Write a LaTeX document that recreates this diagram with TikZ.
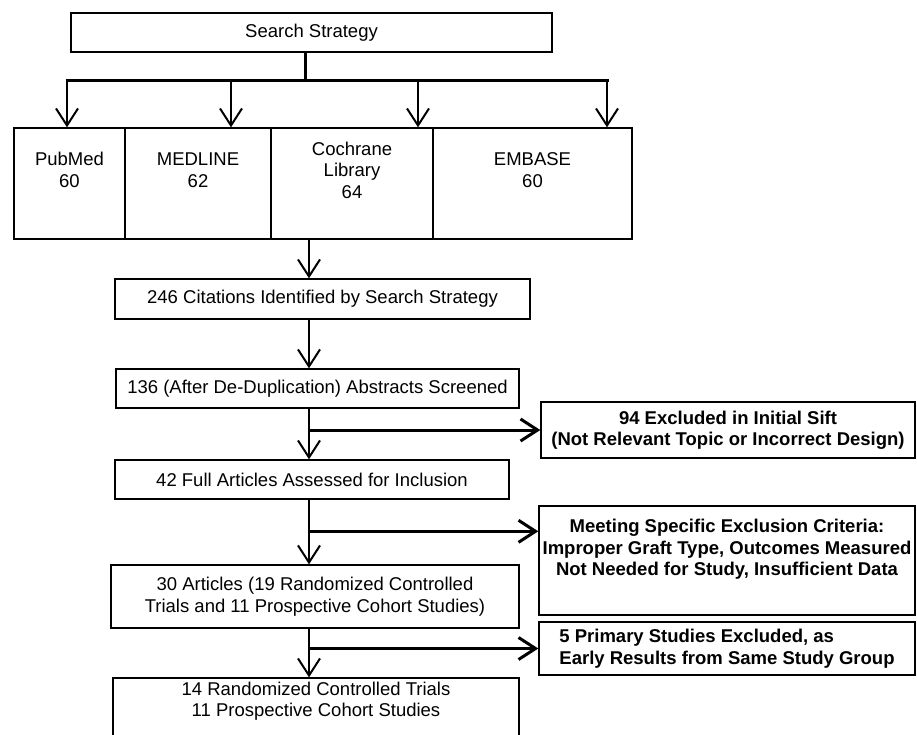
\documentclass[tikz,border=0pt]{standalone}
\usepackage{fontspec}
\setmainfont{Liberation Sans}
\usepackage{tikz}
\usetikzlibrary{arrows.meta,positioning,calc}
\newcommand{\cellstack}[4]{\parbox[c][#2][c]{#1}{\centering #4\par\vspace*{#3}}}

\begin{document}
\begin{tikzpicture}[x=1pt, y=-1pt,
  every node/.style={font=\fontsize{18.5}{21.5}\selectfont},
  box/.style={draw, line width=1.4pt, inner sep=0pt, align=center},
  side/.style={box, font=\fontsize{18.5}{21.5}\selectfont\bfseries},
  arr/.style={line width=2pt, -{Straight Barb[length=17pt,width=22pt]}},
  fork/.style={line width=3pt},
  branch/.style={line width=3pt, -{Straight Barb[length=17pt,width=22pt]}}]
  \useasboundingbox (0,0) rectangle (917,734);
  % Search and databases
  \node[box, minimum width=481pt, minimum height=39pt] (search) at (311.5,32.5) {Search Strategy};
  \node[box, minimum width=111pt] (pubmed) at (69.5,183.5) {\cellstack{100pt}{111pt}{27pt}{PubMed\\60}};
  \node[box, minimum width=146pt] (medline) at (198,183.5) {\cellstack{130pt}{111pt}{27pt}{MEDLINE\\62}};
  \node[box, minimum width=162pt] (cochrane) at (352,183.5) {\cellstack{140pt}{111pt}{27pt}{Cochrane\\Library\\64}};
  \node[box, minimum width=199pt] (embase) at (532.5,183.5) {\cellstack{180pt}{111pt}{27pt}{EMBASE\\60}};
  % Main chain
  \node[box, minimum width=415pt, minimum height=40pt] (cited) at (322.5,299) {246 Citations Identified by Search Strategy};
  \node[box, minimum width=403pt, minimum height=39pt] (screened) at (317.5,388.5) {136 (After De-Duplication) Abstracts Screened};
  \node[box, minimum width=394pt, minimum height=39pt] (full) at (312,479.5) {42 Full Articles Assessed for Inclusion};
  \node[box, minimum width=408pt, minimum height=63pt] (articles) at (315,596.5) {30 Articles (19 Randomized Controlled\\Trials and 11 Prospective Cohort Studies)};
  \node[box, minimum width=406pt] (final) at (316,711.5) {\cellstack{380pt}{67pt}{21pt}{14 Randomized Controlled Trials\\11 Prospective Cohort Studies}};
  % Exclusions
  \node[side, minimum width=374pt, minimum height=56pt] (sift) at (728,430) {94 Excluded in Initial Sift\\(Not Relevant Topic or Incorrect Design)};
  \node[side, minimum width=376pt] (criteria) at (727,560.5) {\cellstack{370pt}{109pt}{22pt}{Meeting Specific Exclusion Criteria:\\Improper Graft Type, Outcomes Measured\\Not Needed for Study, Insufficient Data}};
  \node[side, align=left, minimum width=376pt, minimum height=53pt] (group) at (727,648.5) {5 Primary Studies Excluded, as\\Early Results from Same Study Group};
  % Connectors
  \coordinate (split) at (305,80);
  \coordinate (spine) at (309,0);
  \draw[fork] (search.south -| split) -- (split);
  \draw[fork] (split -| 65.5,0) -- (split -| 608.5,0);
  \foreach \db/\x in {pubmed/67, medline/231, cochrane/418, embase/607}
    \draw[arr] (split -| \x,0) -- (\db.north -| \x,0);
  \draw[arr] (cochrane.south -| spine) -- (cited.north -| spine);
  \draw[arr] (cited.south -| spine) -- (screened.north -| spine);
  \draw[arr] (screened.south -| spine) -- (full.north -| spine);
  \draw[branch] (sift.west -| spine) -- (sift.west);
  \draw[arr] (full.south -| spine) -- (articles.north -| spine);
  \coordinate (critin) at ($(criteria.north west)+(0,26)$);
  \draw[branch] (critin -| spine) -- (critin);
  \draw[arr] (articles.south -| spine) -- (final.north -| spine);
  \draw[branch] (group.west -| spine) -- (group.west);
\end{tikzpicture}
\end{document}
